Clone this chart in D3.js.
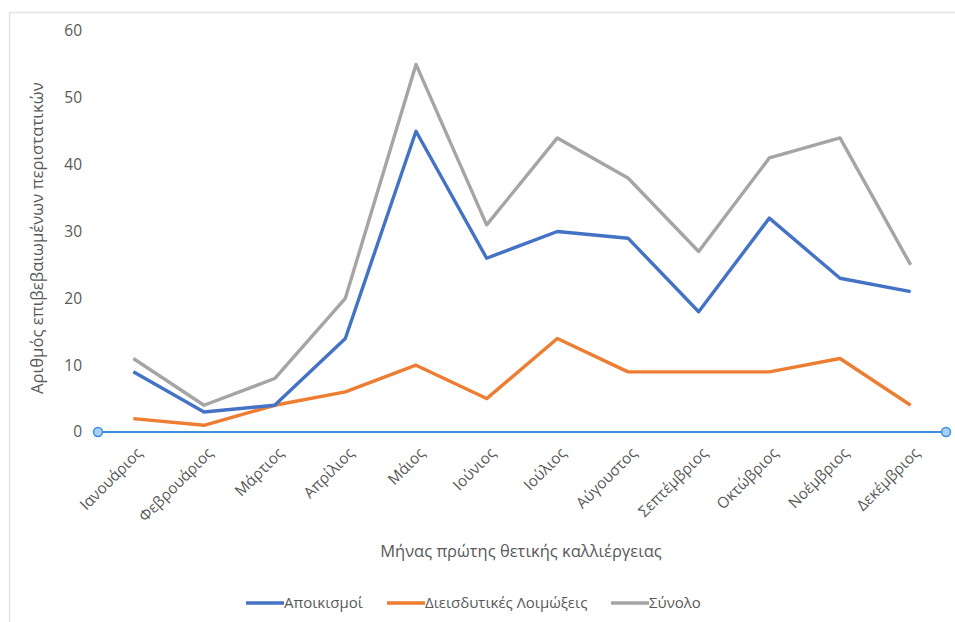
<!DOCTYPE html>
<html>
<head>
<meta charset="utf-8">
<script src="https://cdn.jsdelivr.net/npm/d3@7"></script>
<style>
    body { margin: 0; background: #fff; }
    svg { display: block; }
</style>
</head>
<body>
<svg id="chart" width="955" height="622"></svg>
<script>
const months = ['Ιανουάριος', 'Φεβρουάριος', 'Μάρτιος', 'Απρίλιος', 'Μάιος', 'Ιούνιος',
    'Ιούλιος', 'Αύγουστος', 'Σεπτέμβριος', 'Οκτώβριος', 'Νοέμβριος', 'Δεκέμβριος'];
const colonisations = [9, 3, 4, 14, 45, 26, 30, 29, 18, 32, 23, 21];
const infections = [2, 1, 4, 6, 10, 5, 14, 9, 9, 9, 11, 4];
const totals = [11, 4, 8, 20, 55, 31, 44, 38, 27, 41, 44, 25];
const yTicks = [0, 10, 20, 30, 40, 50, 60];

const series = [
    { name: 'Αποικισμοί', values: colonisations, color: '#4472c4' },
    { name: 'Διεισδυτικές Λοιμώξεις', values: infections, color: '#ed7d31' },
    { name: 'Σύνολο', values: totals, color: '#a5a5a5' }
];

const FONT = 'Open Sans, Noto Sans, sans-serif';
const TEXT = '#595959';

const svg = d3.select('#chart').attr('font-family', FONT);
const margin = { left: 98, right: 9, top: 31, bottom: 190 };
const width = 955, height = 622;

// frame
svg.append('rect')
    .attr('x', 9.5).attr('y', 12.5)
    .attr('width', 960).attr('height', 620)
    .attr('fill', 'none')
    .attr('stroke', '#e3e3e3')
    .attr('stroke-width', 1.5);

const x = d3.scaleBand()
    .domain(months)
    .range([margin.left, width - margin.right]);

const y = d3.scaleLinear()
    .domain([0, 60])
    .range([height - margin.bottom, margin.top]);

// y axis (labels only)
const yAxis = svg.append('g')
    .attr('transform', `translate(${margin.left - 16},0)`)
    .call(d3.axisLeft(y).tickValues(yTicks).tickSize(0).tickPadding(0))
    .attr('font-family', FONT)
    .attr('font-size', 15.5);
yAxis.select('.domain').remove();
yAxis.selectAll('.tick text').attr('fill', TEXT);

// x axis labels, rotated
const xAxis = svg.append('g')
    .attr('transform', `translate(0,${y(0)})`)
    .call(d3.axisBottom(x).tickSize(0).tickPadding(0))
    .attr('font-family', FONT)
    .attr('font-size', 15.3);
xAxis.select('.domain').remove();
xAxis.selectAll('.tick text')
    .attr('fill', TEXT)
    .attr('text-anchor', 'end')
    .attr('dy', 0)
    .attr('transform', 'translate(10,22) rotate(-45)');

// baseline with end handles
svg.append('line')
    .attr('x1', margin.left).attr('x2', width - margin.right)
    .attr('y1', y(0)).attr('y2', y(0))
    .attr('stroke', '#3d8fe0')
    .attr('stroke-width', 2);

svg.selectAll('circle.handle')
    .data([margin.left, width - margin.right])
    .enter()
    .append('circle')
    .attr('class', 'handle')
    .attr('cx', d => d).attr('cy', y(0))
    .attr('r', 4.5)
    .attr('fill', '#a9d0f5')
    .attr('stroke', '#3d8fe0')
    .attr('stroke-width', 1.5);

// lines
const line = d3.line()
    .x((d, i) => x(months[i]) + x.bandwidth() / 2)
    .y(d => y(d));

svg.append('g')
    .selectAll('path')
    .data(series.slice().reverse())
    .enter()
    .append('path')
    .attr('d', d => line(d.values))
    .attr('fill', 'none')
    .attr('stroke', d => d.color)
    .attr('stroke-width', 3.4)
    .attr('stroke-linejoin', 'round');

// axis titles
svg.append('text')
    .attr('fill', TEXT)
    .attr('font-size', 16.7)
    .attr('text-anchor', 'middle')
    .attr('transform', `translate(43,${y(29)}) rotate(-90)`)
    .text('Αριθμός επιβεβαιωμένων περιστατικών');

svg.append('text')
    .attr('fill', TEXT)
    .attr('font-size', 16.5)
    .attr('text-anchor', 'middle')
    .attr('x', 521).attr('y', 557)
    .text('Μήνας πρώτης θετικής καλλιέργειας');

// legend
const legendX = [246, 387, 611];
const legend = svg.append('g');
const items = legend.selectAll('g')
    .data(series)
    .enter()
    .append('g')
    .attr('transform', (d, i) => `translate(${legendX[i]},603)`);
items.append('line')
    .attr('x1', 0).attr('x2', 38)
    .attr('stroke', d => d.color)
    .attr('stroke-width', 3.4);
items.append('text')
    .attr('fill', TEXT)
    .attr('font-size', 15)
    .attr('x', 38).attr('y', 5)
    .text(d => d.name);
</script>
</body>
</html>
